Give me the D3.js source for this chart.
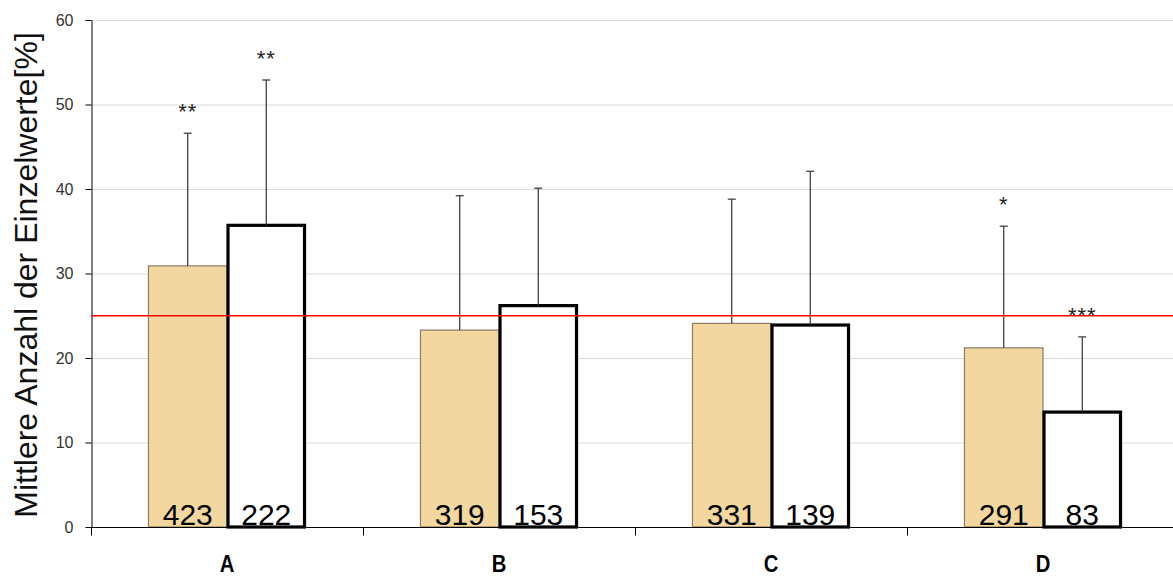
<!DOCTYPE html>
<html>
<head>
<meta charset="utf-8">
<script src="https://cdn.jsdelivr.net/npm/d3@7/dist/d3.min.js"></script>
<style>
  html, body { margin: 0; padding: 0; background: #fff; }
  svg { display: block; font-family: Arial, "Liberation Sans", sans-serif; }
</style>
</head>
<body>
<svg id="chart" width="1173" height="579"></svg>
<script>
// Categories and two series (means with upper standard deviation)
const categories = ["A", "B", "C", "D"];
const seriesKeys = ["s1", "s2"];
const meanS1 = [30.9, 23.3, 24.1, 21.2];
const meanS2 = [35.7, 26.2, 23.9, 13.6];
const sdS1 = [15.7, 15.9, 14.7, 14.4];
const sdS2 = [17.2, 13.9, 18.2, 8.9];
const countS1 = ["423", "319", "331", "291"];
const countS2 = ["222", "153", "139", "83"];
const starsS1 = ["**", "", "", "*"];
const starsS2 = ["**", "", "", "***"];
const referenceValue = 25;
const yTicks = [0, 10, 20, 30, 40, 50, 60];
const yTitle = "Mittlere Anzahl der Einzelwerte[%]";

const rows = categories.map((c, i) => ({
  cat: c,
  values: [
    { key: "s1", mean: meanS1[i], sd: sdS1[i], n: countS1[i], stars: starsS1[i] },
    { key: "s2", mean: meanS2[i], sd: sdS2[i], n: countS2[i], stars: starsS2[i] }
  ]
}));

const svg = d3.select("#chart");
const plotLeft = 91, plotRight = 1179, plotTop = 20, plotBottom = 527;

const x = d3.scaleBand().domain(categories).range([plotLeft, plotRight]).padding(0);
const xs = d3.scaleBand().domain(seriesKeys).range([0, x.bandwidth()])
  .paddingInner(0).paddingOuter(0.732);
const y = d3.scaleLinear().domain([0, 60]).range([plotBottom, plotTop]);

// Horizontal gridlines
svg.append("g").selectAll("line").data(yTicks.filter(t => t > 0)).join("line")
  .attr("x1", plotLeft).attr("x2", 1173)
  .attr("y1", d => y(d) + 0.5).attr("y2", d => y(d) + 0.5)
  .attr("stroke", "#d9d9d9").attr("stroke-width", 1);

// Y axis
const yAxis = svg.append("g").attr("transform", `translate(${plotLeft + 0.5},0)`)
  .call(d3.axisLeft(y).tickValues(yTicks).tickSize(6).tickPadding(12).tickSizeOuter(0));
yAxis.select(".domain").attr("stroke", "#000");
yAxis.selectAll(".tick line").attr("stroke", "#000");
yAxis.selectAll(".tick text").attr("font-size", 16).attr("fill", "#333")
  .attr("font-family", "Arial, 'Liberation Sans', sans-serif");

// Bars
const groups = svg.append("g").selectAll("g").data(rows).join("g")
  .attr("transform", d => `translate(${x(d.cat)},0)`);

groups.selectAll("rect").data(d => d.values).join("rect")
  .attr("x", d => xs(d.key) + (d.key === "s2" ? 1 : 0))
  .attr("y", d => y(d.mean))
  .attr("width", d => xs.bandwidth() - (d.key === "s2" ? 2 : 0))
  .attr("height", d => y(0) - y(d.mean))
  .attr("fill", d => d.key === "s1" ? "#f3d7a1" : "#fff")
  .attr("stroke", d => d.key === "s1" ? "#8a7b62" : "#000")
  .attr("stroke-width", d => d.key === "s1" ? 1.2 : 3.2);

// Error bars (upper only)
const err = groups.selectAll("g.err").data(d => d.values).join("g").attr("class", "err");
err.append("line")
  .attr("x1", d => xs(d.key) + xs.bandwidth() / 2)
  .attr("x2", d => xs(d.key) + xs.bandwidth() / 2)
  .attr("y1", d => y(d.mean)).attr("y2", d => y(d.mean + d.sd))
  .attr("stroke", "#333").attr("stroke-width", 1.2);
err.append("line")
  .attr("x1", d => xs(d.key) + xs.bandwidth() / 2 - 4)
  .attr("x2", d => xs(d.key) + xs.bandwidth() / 2 + 4)
  .attr("y1", d => y(d.mean + d.sd)).attr("y2", d => y(d.mean + d.sd))
  .attr("stroke", "#333").attr("stroke-width", 1.2);

// Significance stars
groups.selectAll("text.stars").data(d => d.values.filter(v => v.stars)).join("text")
  .attr("class", "stars")
  .attr("x", d => xs(d.key) + xs.bandwidth() / 2)
  .attr("y", d => y(d.mean + d.sd) - 14)
  .attr("text-anchor", "middle").attr("font-size", 22).attr("fill", "#222")
  .attr("letter-spacing", 1)
  .text(d => d.stars);

// Sample counts inside the bars
groups.selectAll("text.n").data(d => d.values).join("text")
  .attr("class", "n")
  .attr("x", d => xs(d.key) + xs.bandwidth() / 2)
  .attr("y", plotBottom - 2)
  .attr("text-anchor", "middle").attr("font-size", 30).attr("fill", "#000")
  .text(d => d.n);

// Reference line
svg.append("line")
  .attr("x1", plotLeft).attr("x2", 1173)
  .attr("y1", y(referenceValue)).attr("y2", y(referenceValue))
  .attr("stroke", "#ff0000").attr("stroke-width", 1.6);

// X axis
const xAxis = svg.append("g").attr("transform", `translate(0,${plotBottom + 0.5})`);
xAxis.append("line").attr("x1", plotLeft).attr("x2", 1173).attr("stroke", "#000");
xAxis.selectAll("line.tick").data(categories).join("line").attr("class", "tick")
  .attr("x1", d => x(d) + 0.5).attr("x2", d => x(d) + 0.5)
  .attr("y1", 0).attr("y2", 8).attr("stroke", "#000");
xAxis.selectAll("text").data(categories).join("text")
  .attr("x", d => x(d) + x.bandwidth() / 2)
  .attr("y", 45)
  .attr("text-anchor", "middle").attr("font-size", 23).attr("font-weight", "bold")
  .attr("transform", d => `translate(${x(d) + x.bandwidth() / 2},0) scale(0.88,1) translate(${-(x(d) + x.bandwidth() / 2)},0)`)
  .text(d => d);

// Y axis title
svg.append("text")
  .attr("transform", "translate(37,275) rotate(-90)")
  .attr("text-anchor", "middle").attr("font-size", 32).attr("fill", "#111")
  .text(yTitle);
</script>
</body>
</html>
